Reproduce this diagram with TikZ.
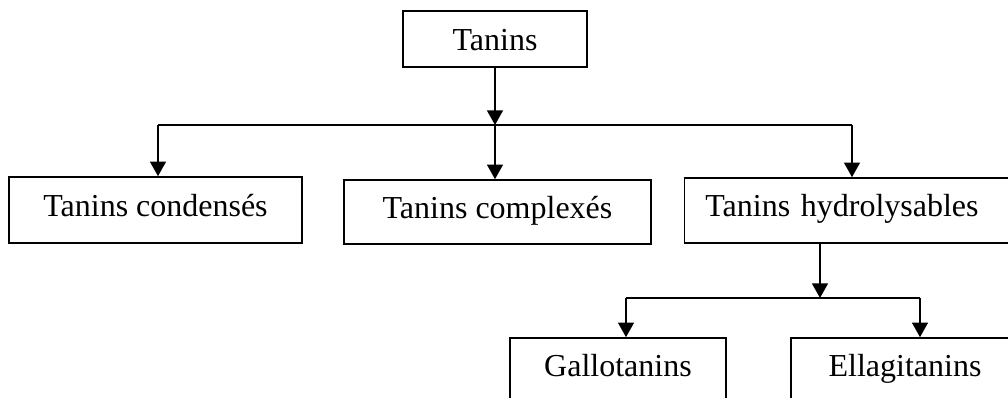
\documentclass[tikz,border=0pt]{standalone}
\usepackage{fontspec}
\setmainfont{Liberation Serif}
\usepackage{tikz}
\usetikzlibrary{arrows.meta,positioning}

\begin{document}
\begin{tikzpicture}[x=0.75pt,y=-0.75pt,
    box/.style={draw, line width=1.2pt, rectangle, inner sep=0pt,
        font=\fontsize{24}{28}\selectfont, text height=16.8pt, text depth=7.2pt},
    arr/.style={line width=1.2pt, -{Triangle[width=12pt,length=11pt]}}]
    \clip (0,0) rectangle (1008,398);

    % Boxes
    \node[box, minimum width=138pt, minimum height=42pt, text depth=0pt] (tanins) at (495,39) {Tanins};
    \node[box, minimum width=219.75pt, minimum height=49.5pt] (cond) at (155.5,210) {Tanins condensés};
    \node[box, minimum width=230.25pt, minimum height=48pt] (compl) at (497.5,212) {Tanins complexés};
    \node[box, minimum height=48.75pt, text width=220pt, align=left, inner xsep=15.75pt] (hydro) at (852,210.5) {Tanins hydrolysables};
    \node[box, minimum width=162pt, minimum height=48pt] (gallo) at (618,370) {Gallotanins};
    \node[box, minimum width=171pt, minimum height=48pt] (ellag) at (905,370) {Ellagitanins};

    % First split
    \coordinate (barL) at (158,125);
    \coordinate (barR) at (852,125);
    \draw[arr] (tanins.south) -- (tanins.south |- barL);
    \draw[line width=1.2pt] (barL) -- (barR);
    \draw[arr] (barL) -- (barL |- cond.north);
    \draw[arr] (tanins.south |- barL) -- (tanins.south |- compl.north);
    \draw[arr] (barR) -- (barR |- hydro.north);

    % Second split
    \coordinate (split) at (820,298);
    \coordinate (barGL) at (626,298);
    \coordinate (barER) at (920,298);
    \draw[arr] (split |- hydro.south) -- (split);
    \draw[line width=1.2pt] (barGL) -- (barER);
    \draw[arr] (barGL) -- (barGL |- gallo.north);
    \draw[arr] (barER) -- (barER |- ellag.north);
\end{tikzpicture}
\end{document}
